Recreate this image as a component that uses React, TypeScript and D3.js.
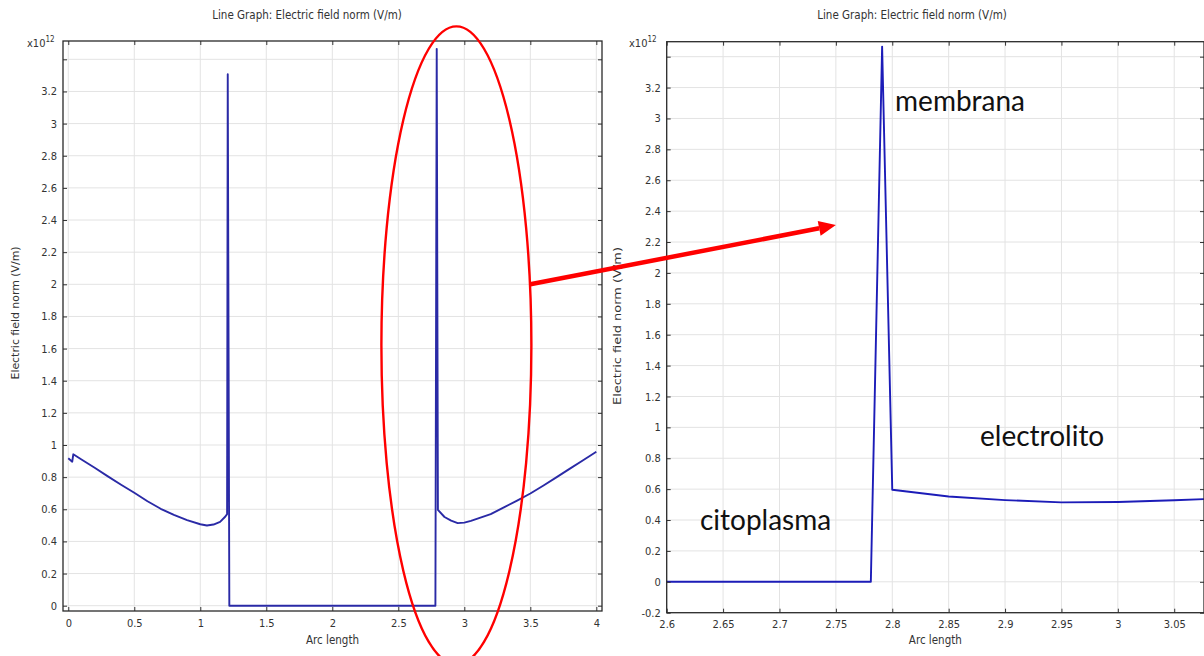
import React, { useEffect, useRef } from 'react';
import * as d3 from 'd3';

// arc length along the cut line
const arcLength = [
  0, 0.03, 0.038, 0.1, 0.2, 0.3, 0.4, 0.5, 0.6, 0.7, 0.8, 0.9, 1.0, 1.05, 1.1, 1.15,
  1.19, 1.203, 1.208, 1.22, 2.0, 2.781, 2.791, 2.8, 2.85, 2.9, 2.95, 3.0, 3.05, 3.1,
  3.2, 3.3, 3.4, 3.5, 3.6, 3.7, 3.8, 3.9, 4.0,
];
// electric field norm, in units of 1e12 V/m
const fieldNorm = [
  0.917, 0.896, 0.942, 0.91, 0.858, 0.805, 0.753, 0.703, 0.65, 0.603, 0.565, 0.533, 0.507, 0.499, 0.505, 0.522,
  0.555, 0.57, 3.307, 0, 0, 0, 3.465, 0.596, 0.552, 0.529, 0.514, 0.517, 0.528, 0.542,
  0.57, 0.612, 0.654, 0.698, 0.748, 0.8, 0.853, 0.905, 0.958,
];

const leftXTicks = [0, 0.5, 1, 1.5, 2, 2.5, 3, 3.5, 4];
const leftYTicks = [0, 0.2, 0.4, 0.6, 0.8, 1, 1.2, 1.4, 1.6, 1.8, 2, 2.2, 2.4, 2.6, 2.8, 3, 3.2, 3.4];
const rightXTicks = [2.6, 2.65, 2.7, 2.75, 2.8, 2.85, 2.9, 2.95, 3, 3.05];
const rightYTicks = [-0.2, 0, 0.2, 0.4, 0.6, 0.8, 1, 1.2, 1.4, 1.6, 1.8, 2, 2.2, 2.4, 2.6, 2.8, 3, 3.2, 3.4];

const titleText = 'Line Graph: Electric field norm (V/m)';
const xLabelText = 'Arc length';
const yLabelText = 'Electric field norm (V/m)';

// region names written on the zoomed plot (data coords of the right panel)
const regionLabels = [
  { text: 'membrana', x: 2.8025, y: 3.05 },
  { text: 'citoplasma', x: 2.6295, y: 0.335 },
  { text: 'electrolito', x: 2.8778, y: 0.879 },
];

const W = 1204;
const H = 656;
const tickFont = '"Liberation Sans Narrow", "DejaVu Sans Condensed", sans-serif';

function drawPanel(svg, cfg) {
  const x = d3.scaleLinear().domain(cfg.xDomain).range([cfg.left, cfg.right]);
  const y = d3.scaleLinear().domain(cfg.yDomain).range([cfg.bottom, cfg.top]);
  const g = svg.append('g');

  // grid
  g.append('g').selectAll('line').data(cfg.xTicks).join('line')
    .attr('x1', d => x(d)).attr('x2', d => x(d))
    .attr('y1', cfg.top).attr('y2', cfg.bottom)
    .attr('stroke', '#e3e3e3');
  g.append('g').selectAll('line').data(cfg.yTicks).join('line')
    .attr('x1', cfg.left).attr('x2', cfg.right)
    .attr('y1', d => y(d)).attr('y2', d => y(d))
    .attr('stroke', '#e3e3e3');

  // data line, clipped to the plot box
  svg.append('clipPath').attr('id', cfg.id)
    .append('rect')
    .attr('x', cfg.left).attr('y', cfg.top)
    .attr('width', cfg.right - cfg.left).attr('height', cfg.bottom - cfg.top);

  const line = d3.line()
    .x((d, i) => x(arcLength[i]))
    .y(d => y(d));

  g.append('path')
    .datum(fieldNorm)
    .attr('clip-path', `url(#${cfg.id})`)
    .attr('d', line)
    .attr('fill', 'none')
    .attr('stroke', cfg.lineColor)
    .attr('stroke-width', 1.9)
    .attr('stroke-linejoin', 'round');

  // axes, ticks pointing inward on all four sides
  const styleAxis = sel => {
    sel.select('.domain').remove();
    sel.attr('font-family', tickFont).attr('font-size', 11).attr('color', '#333');
    sel.selectAll('.tick line').attr('stroke', '#333');
  };

  g.append('g')
    .attr('transform', `translate(0,${cfg.bottom})`)
    .call(d3.axisBottom(x).tickValues(cfg.xTicks).tickSize(-4).tickPadding(8).tickFormat(d => String(d)))
    .call(styleAxis);
  g.append('g')
    .attr('transform', `translate(0,${cfg.top})`)
    .call(d3.axisTop(x).tickValues(cfg.xTicks).tickSize(-4).tickFormat(() => ''))
    .call(styleAxis);
  g.append('g')
    .attr('transform', `translate(${cfg.left},0)`)
    .call(d3.axisLeft(y).tickValues(cfg.yTicks).tickSize(-4).tickPadding(6)
      .tickFormat(d => (d > 3.3 ? '' : String(d))))
    .call(styleAxis);
  g.append('g')
    .attr('transform', `translate(${cfg.right},0)`)
    .call(d3.axisRight(y).tickValues(cfg.yTicks).tickSize(-4).tickFormat(() => ''))
    .call(styleAxis);

  // frame
  g.append('rect')
    .attr('x', cfg.left).attr('y', cfg.top)
    .attr('width', cfg.right - cfg.left).attr('height', cfg.bottom - cfg.top)
    .attr('fill', 'none')
    .attr('stroke', '#2a2a2a')
    .attr('stroke-width', 1.3);

  // title
  g.append('text')
    .attr('x', cfg.titleX).attr('y', 19)
    .attr('text-anchor', 'middle')
    .attr('font-family', tickFont).attr('font-size', 11.5)
    .attr('fill', '#333')
    .text(titleText);

  // x10^12 multiplier
  const mult = g.append('text')
    .attr('x', cfg.multX).attr('y', 47)
    .attr('font-family', tickFont).attr('font-size', 11)
    .attr('fill', '#333');
  mult.append('tspan').text('x10');
  mult.append('tspan').attr('dy', -5).attr('font-size', 8).text('12');

  // axis titles
  g.append('text')
    .attr('x', (cfg.left + cfg.right) / 2).attr('y', 644)
    .attr('text-anchor', 'middle')
    .attr('font-family', tickFont).attr('font-size', 11.5)
    .attr('fill', '#333')
    .text(xLabelText);

  g.append('text')
    .attr('transform', `translate(${cfg.yLabelX},${cfg.yLabelY}) rotate(-90)`)
    .attr('text-anchor', 'middle')
    .attr('font-family', '"DejaVu Sans", sans-serif')
    .attr('font-size', 10)
    .attr('textLength', cfg.yLabelLen)
    .attr('lengthAdjust', 'spacingAndGlyphs')
    .attr('fill', '#333')
    .text(yLabelText);

  return { x, y };
}

const App = () => {
  const svgRef = useRef(null);

  useEffect(() => {
    document.body.style.margin = '0';
    const svg = d3.select(svgRef.current);
    svg.selectAll('*').remove();

    svg.append('rect').attr('width', W).attr('height', H).attr('fill', '#fff');

    const left = drawPanel(svg, {
      id: 'clip-left',
      left: 63, right: 602, top: 41, bottom: 611,
      xDomain: [-0.04, 4.043], yDomain: [-0.033, 3.514],
      xTicks: leftXTicks, yTicks: leftYTicks,
      lineColor: '#2a2aa6',
      titleX: 307, multX: 27,
      yLabelX: 19, yLabelY: 313, yLabelLen: 133,
    });

    const right = drawPanel(svg, {
      id: 'clip-right',
      left: 666.7, right: 1204, top: 41.7, bottom: 612.7,
      xDomain: [2.6, 3.0764], yDomain: [-0.2, 3.497],
      xTicks: rightXTicks, yTicks: rightYTicks,
      lineColor: '#1c1cb8',
      titleX: 912, multX: 629,
      yLabelX: 621, yLabelY: 326, yLabelLen: 158,
    });

    // region names on the zoomed plot
    svg.append('g').selectAll('text').data(regionLabels).join('text')
      .attr('x', d => right.x(d.x))
      .attr('y', d => right.y(d.y))
      .attr('font-family', 'Lato, "Open Sans", sans-serif')
      .attr('font-size', 28)
      .attr('fill', '#111')
      .text(d => d.text);

    // red ellipse around the second spike
    svg.append('ellipse')
      .attr('cx', left.x(2.94)).attr('cy', left.y(1.62))
      .attr('rx', 75).attr('ry', 319)
      .attr('fill', 'none')
      .attr('stroke', '#ff0000')
      .attr('stroke-width', 2.4);

    // red arrow from the ellipse to the zoomed plot
    const x1 = left.x(3.5), y1 = left.y(2.0);
    const x2 = right.x(2.75), y2 = right.y(2.31);
    const ang = Math.atan2(y2 - y1, x2 - x1);
    const headLen = 17, headW = 7.5;
    const bx = x2 - headLen * Math.cos(ang), by = y2 - headLen * Math.sin(ang);
    svg.append('line')
      .attr('x1', x1).attr('y1', y1).attr('x2', bx).attr('y2', by)
      .attr('stroke', '#ff0000').attr('stroke-width', 4.5);
    svg.append('polygon')
      .attr('points', [
        [x2, y2],
        [bx + headW * Math.sin(ang), by - headW * Math.cos(ang)],
        [bx - headW * Math.sin(ang), by + headW * Math.cos(ang)],
      ].map(p => p.join(',')).join(' '))
      .attr('fill', '#ff0000');
  }, []);

  return <svg ref={svgRef} width={W} height={H} style={{ display: 'block' }}></svg>;
};

export default App;
